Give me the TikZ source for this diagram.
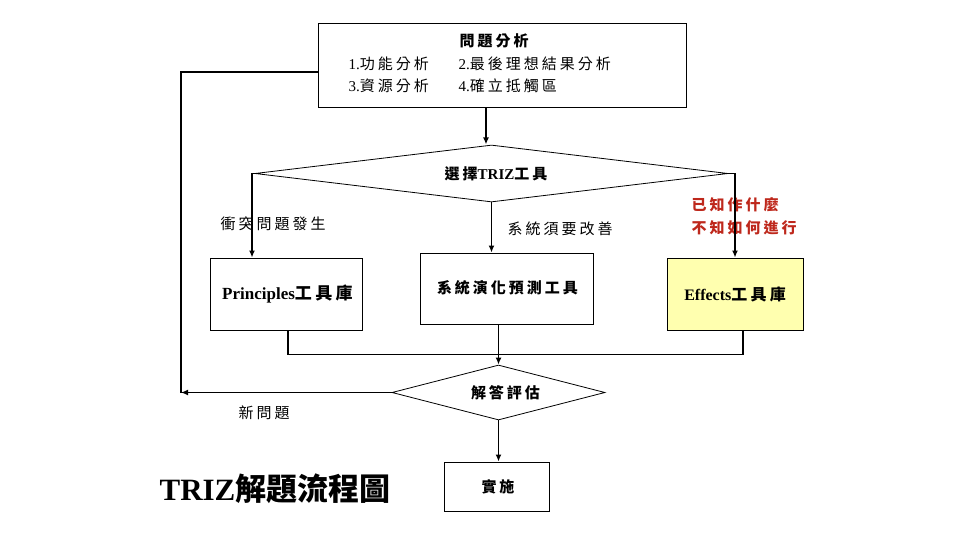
\documentclass[tikz,border=0pt]{standalone}
\usepackage{fontspec}
\setmainfont{Liberation Serif}
\newfontfamily\cjk{Noto Sans CJK TC}[LetterSpace=20]
\newfontfamily\cjktight{Noto Sans CJK TC}
\usetikzlibrary{shapes.geometric,arrows.meta}
\newcommand\Zh[1]{{\cjk #1}}
\definecolor{TipRed}{RGB}{190,40,28}
\definecolor{LightYellow}{RGB}{255,255,175}
\tikzset{
    FlowBox/.style={draw,line width=0.9pt,inner sep=0pt},
    FlowDiamond/.style={draw,line width=0.8pt,diamond,inner sep=0pt},
    FlowArrow/.style={line width=1.6pt,-{Latex[length=7pt,width=6pt]}},
    FlowLine/.style={line width=1.2pt},
}

\begin{document}
\begin{tikzpicture}[x=1pt,y=-1pt,font=\fontsize{15}{18}\selectfont]
    \useasboundingbox (0,0) rectangle (960,540);
    \node[FlowBox,minimum width=368pt,minimum height=84pt] (ProblemBox) at (502,65) {};
    \node[font=\fontsize{15}{18}\selectfont\bfseries] (ProblemTitle) at (494,41) {\Zh{問題分析}};
    \node[anchor=west] (StepA) at (345,64) {1.\Zh{功能分析}};
    \node[anchor=west] (StepB) at (455,64) {2.\Zh{最後理想結果分析}};
    \node[anchor=west] (StepC) at (345,86) {3.\Zh{資源分析}};
    \node[anchor=west] (StepD) at (455,86) {4.\Zh{確立抵觸區}};

    \node[FlowDiamond,aspect=8.3,minimum width=473pt,minimum height=57pt,font=\fontsize{15}{18}\selectfont\bfseries] (ChooseTool) at (491.5,173.5) {\hspace*{9pt}\Zh{選擇}TRIZ\Zh{工具}};

    \node[FlowBox,minimum width=152pt,minimum height=72pt,font=\fontsize{17}{18}\selectfont\bfseries] (PrincBox) at (286,294) {\hspace*{3pt}Principles\Zh{工具庫}};
    \node[FlowBox,minimum width=173pt,minimum height=71pt,font=\fontsize{15}{18}\selectfont\bfseries] (EvolBox) at (506.5,288.5) {\raisebox{3pt}{\hspace*{2pt}\Zh{系統演化預測工具}}};
    \node[FlowBox,fill=LightYellow,minimum width=136pt,minimum height=72pt,font=\fontsize{16}{18}\selectfont\bfseries] (EffectBox) at (735,294) {Effects\Zh{工具庫}};

    \node[FlowDiamond,aspect=3.9,minimum width=213pt,minimum height=55pt,font=\fontsize{15}{18}\selectfont\bfseries] (EvalBox) at (498.5,392.5) {\hspace*{14pt}\Zh{解答評估}};
    \node[FlowBox,minimum width=105pt,minimum height=49pt,font=\fontsize{15}{18}\selectfont\bfseries] (ImplBox) at (496.5,486.5) {\hspace*{3pt}\Zh{實施}};

    \node (ConflictLabel) at (273,224) {\Zh{衝突問題發生}};
    \node (ImproveLabel) at (560,229) {\Zh{系統須要改善}};
    \node[anchor=west,align=left,text=TipRed,font=\fontsize{15}{23}\selectfont\bfseries] (KnownLabel) at (688,216) {\Zh{已知作什麼}\\\Zh{不知如何進行}};
    \node (NewLabel) at (264,413) {\Zh{新問題}};
    \node[font=\fontsize{31}{36}\selectfont\bfseries] (DiagramTitle) at (275,489) {TRIZ{\cjktight 解題流程圖}};

    \coordinate (BackCorner) at (181,395);
    \draw[FlowArrow] (ProblemBox.south -| ChooseTool.north) ++(-5.5,0) -- ++(0,37);
    \draw[FlowArrow] (ChooseTool.west) -| ([xshift=-34pt]PrincBox.north);
    \draw[FlowArrow] (ChooseTool.east) -| (EffectBox.north);
    \draw[FlowArrow] (ChooseTool.south) -- (ChooseTool.south |- EvolBox.north);
    \draw[FlowLine] ([xshift=2pt]PrincBox.south) -- ++(0,24) -| ([xshift=8pt]EffectBox.south);
    \draw[FlowArrow] (EvolBox.south -| EvalBox.north) -- (EvalBox.north);
    \draw[FlowArrow] (EvalBox.west) -- (EvalBox.west -| BackCorner);
    \draw[FlowLine] (EvalBox.west -| BackCorner) |- ([yshift=-7pt]ProblemBox.west);
    \draw[FlowArrow] (EvalBox.south) -- (EvalBox.south |- ImplBox.north);
\end{tikzpicture}
\end{document}
